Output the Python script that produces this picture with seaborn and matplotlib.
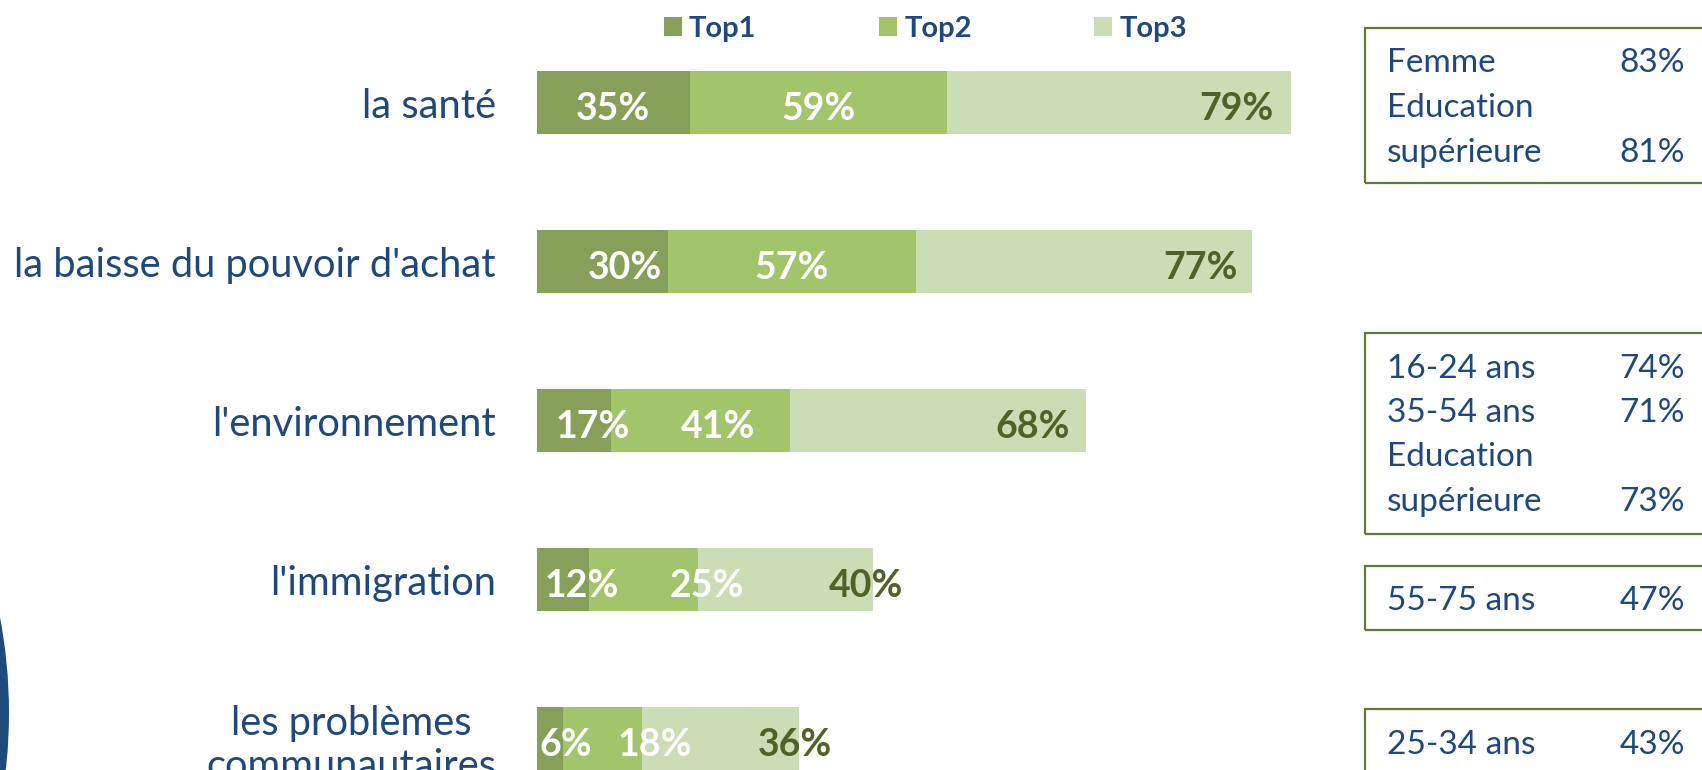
import matplotlib
matplotlib.use("Agg")
import matplotlib.pyplot as plt
import numpy as np
import pandas as pd
import seaborn as sns
from matplotlib.patches import Patch, Rectangle, Ellipse

# ─── Data ────────────────────────────────────────────────────────────────────
categories = ["la santé", "la baisse du pouvoir d'achat", "l'environnement",
              "l'immigration", "les problèmes\ncommunautaires"]
top1 = [35, 30, 17, 12, 6]
top2 = [59, 57, 41, 25, 18]
top3 = [79, 77, 68, 40, 36]
series_names = ["Top1", "Top2", "Top3"]

box1_labels = ["Femme", "Education", "supérieure"]
box1_values = ["83%", "", "81%"]
box2_labels = ["16-24 ans", "35-54 ans", "Education", "supérieure"]
box2_values = ["74%", "71%", "", "73%"]
box3_labels = ["55-75 ans"]
box3_values = ["47%"]
box4_labels = ["25-34 ans"]
box4_values = ["43%"]

# ─── Style ───────────────────────────────────────────────────────────────────
C_TOP1 = "#86A05A"
C_TOP2 = "#A2C46A"
C_TOP3 = "#CADDB4"
C_DARK = "#4F6228"
C_BLUE = "#1F497D"
C_BOX = "#607A34"

sns.set_style("white")
plt.rcParams["font.family"] = ["Lato", "DejaVu Sans"]

W, H = 1702, 770
fig = plt.figure(figsize=(W / 100, H / 100), dpi=100)

# axes: x=0 at 537px, 4.36 px per unit ; rows every 159px starting at 102.5px
ax = fig.add_axes([537 / W, 0, 872 / W, 1])

df = pd.DataFrame({"cat": categories, "t1": top1, "t2": top2, "t3": top3})
df["c2"] = df["t1"] + df["t2"]
df["c3"] = df["c2"] + df["t3"]

# stacked look: draw the running totals from longest to shortest
for col, colr in [("c3", C_TOP3), ("c2", C_TOP2), ("t1", C_TOP1)]:
    sns.barplot(data=df, x=col, y="cat", orient="h", color=colr,
                saturation=1, width=0.40, linewidth=0, errorbar=None, ax=ax)

ax.set_xlim(0, 200)
ax.set_ylim(4.198, -0.645)
ax.set_xlabel("")
ax.set_ylabel("")
ax.set_xticks([])
sns.despine(ax=ax, left=True, bottom=True)
ax.tick_params(axis="y", length=0, pad=29.5, labelsize=28.7, labelcolor=C_BLUE)
for lab in ax.get_yticklabels():
    lab.set_multialignment("center")

# value labels (hand nudges in data units, as in the source layout)
label_shift = [[0, 0, 27], [5.2, 0, 26.6], [4.2, 4.1, 21.7],
               [4.2, 14.4, 18.5], [3.5, 12, 17.2]]
for i in range(len(categories)):
    vals = [top1[i], top2[i], top3[i]]
    starts = [0, top1[i], top1[i] + top2[i]]
    for j in range(3):
        xc = starts[j] + vals[j] / 2 + label_shift[i][j]
        ax.text(xc, i + 0.11, f"{vals[j]}%", ha="center", va="baseline",
                fontsize=27, fontweight="bold",
                color="white" if j < 2 else C_DARK)

# legend
handles = [Patch(facecolor=c, edgecolor="none") for c in (C_TOP1, C_TOP2, C_TOP3)]
leg = fig.legend(handles, series_names, loc="center left",
                 bbox_to_anchor=(664 / W, 1 - 29 / H), ncol=3, frameon=False,
                 prop={"family": "Lato", "weight": "bold", "size": 21},
                 handlelength=0.62, handleheight=0.62, handletextpad=0.24,
                 columnspacing=4.2, borderpad=0, borderaxespad=0)
for t in leg.get_texts():
    t.set_color(C_BLUE)

# side boxes with sub-group results
boxes = [(28, 183, box1_labels, box1_values),
         (333, 534, box2_labels, box2_values),
         (566, 630, box3_labels, box3_values),
         (709, 800, box4_labels, box4_values)]
for top, bot, labs, vals in boxes:
    fig.patches.append(Rectangle((1365 / W, 1 - bot / H), 400 / W, (bot - top) / H,
                                 transform=fig.transFigure, fill=False,
                                 edgecolor=C_BOX, linewidth=1.6))
    for k, (lab, val) in enumerate(zip(labs, vals)):
        yb = 1 - (top + 44.5 + 44.5 * k) / H
        fig.text(1387 / W, yb, lab, ha="left", va="baseline",
                 fontsize=24, color=C_BLUE)
        if val:
            fig.text(1685 / W, yb, val, ha="right", va="baseline",
                     fontsize=24, color=C_BLUE)

# decorative blue disc on the left edge
fig.patches.append(Ellipse((-507 / W, 1 - 713 / H), 2 * 516 / W, 2 * 516 / H,
                           transform=fig.transFigure, facecolor="#1F4A7C",
                           edgecolor="none"))

fig.savefig("out.png", dpi=100)
